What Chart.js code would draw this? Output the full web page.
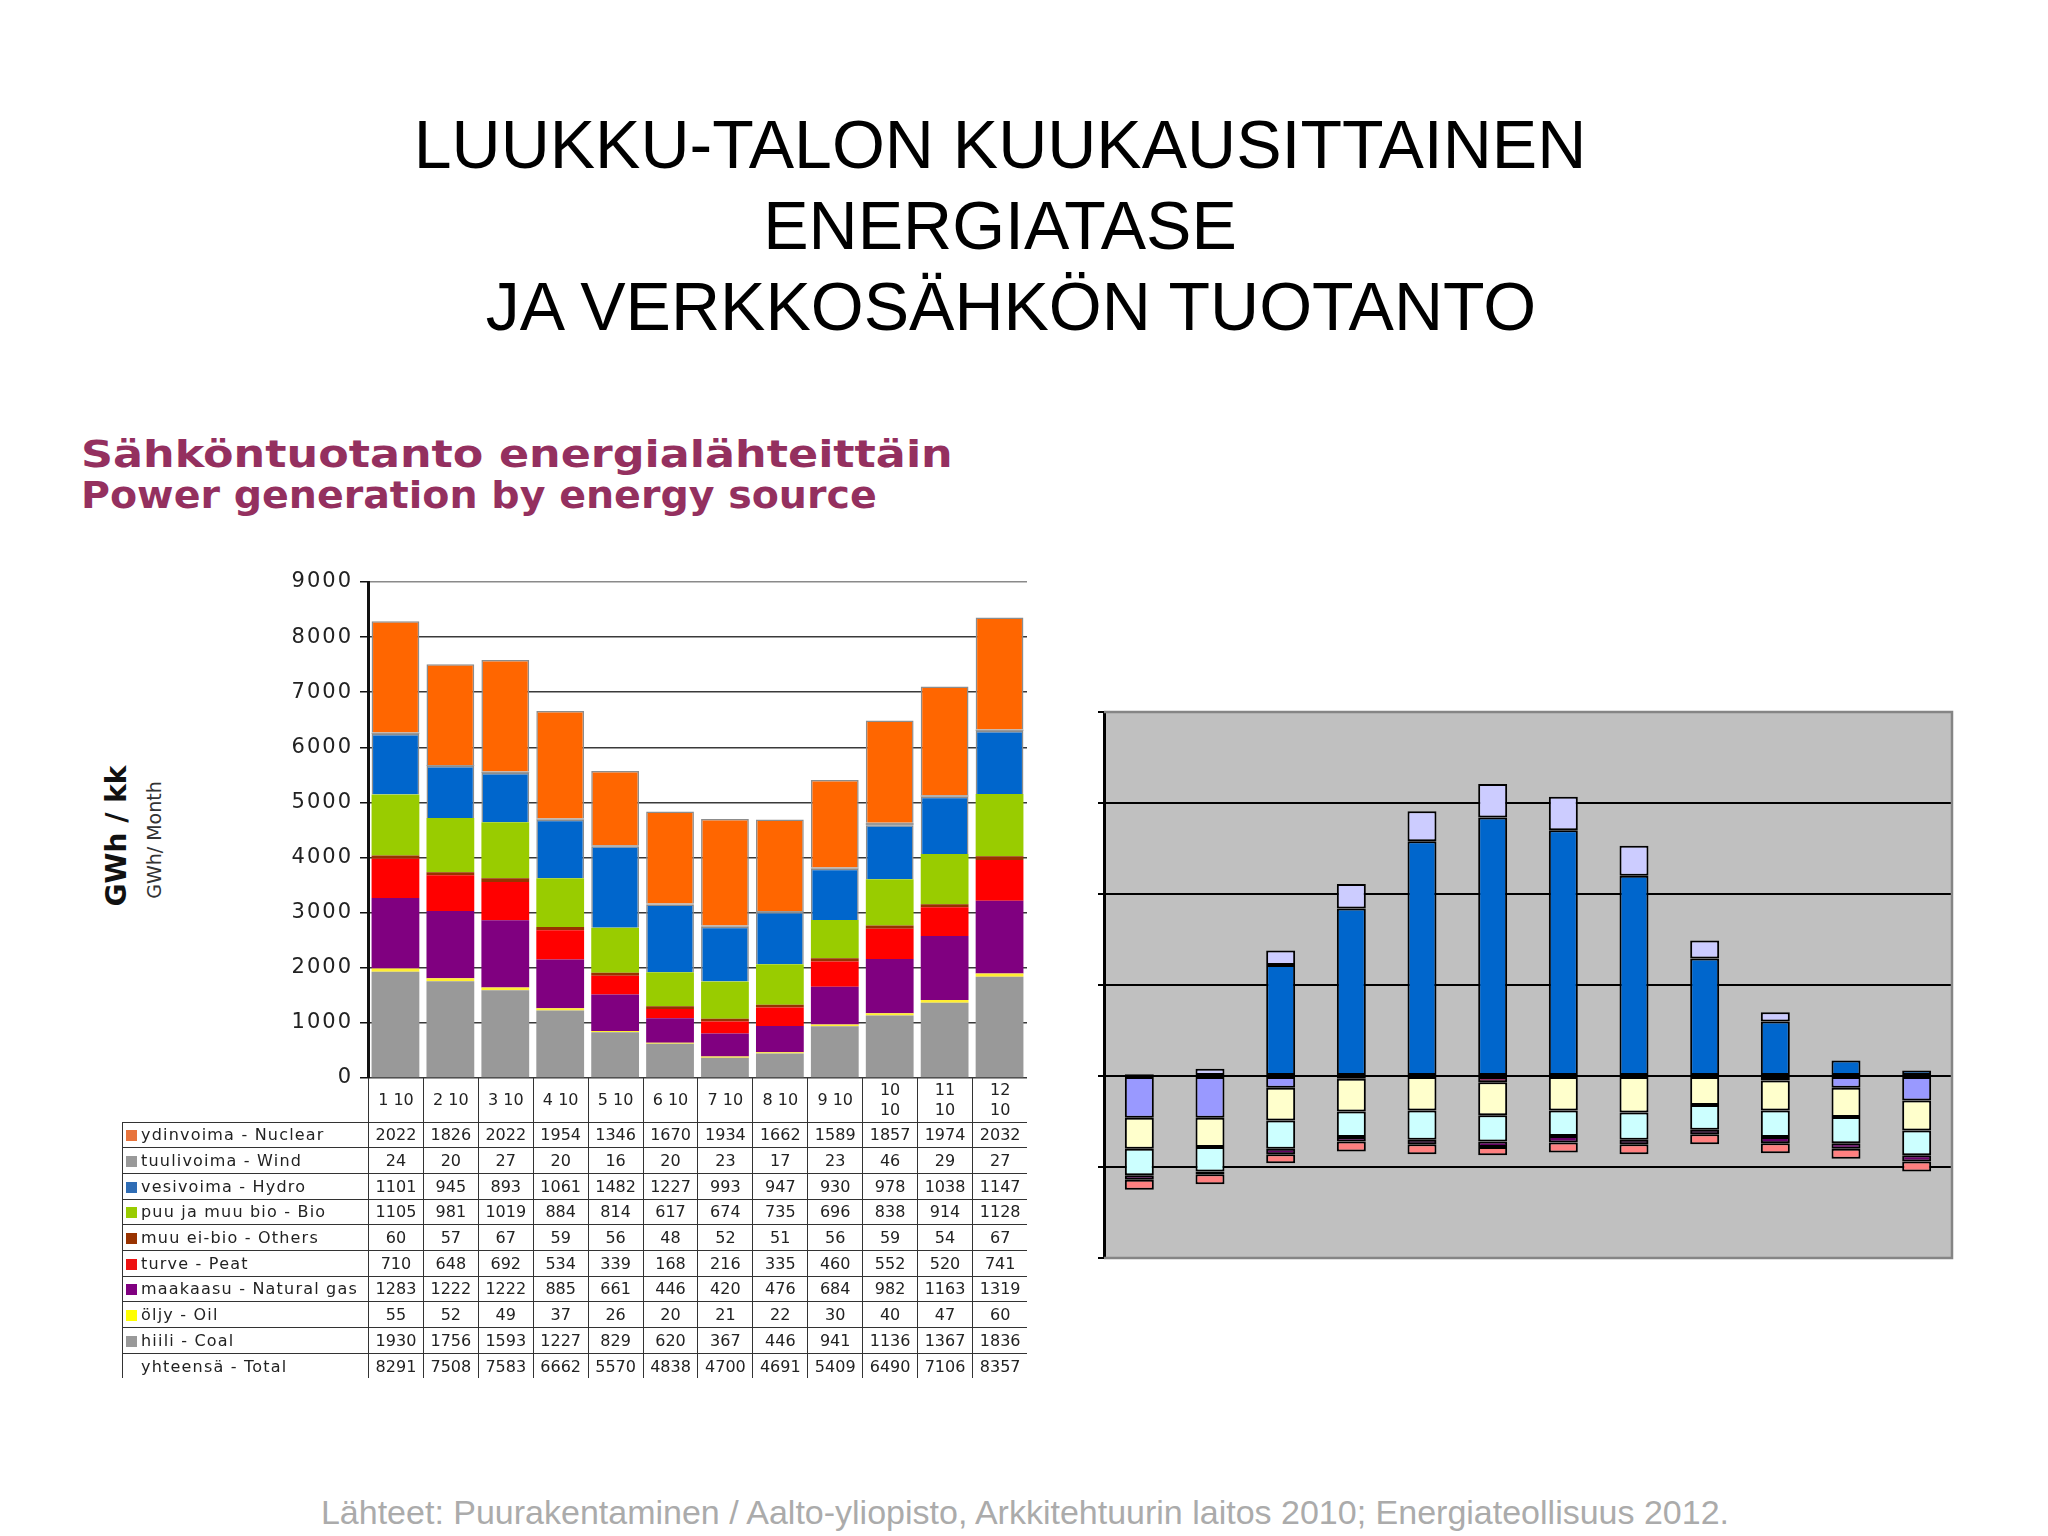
<!DOCTYPE html>
<html lang="fi">
  <head>
    <meta charset="UTF-8" />
    <title>Luukku-talon kuukausittainen energiatase</title>
    <style>
      html,
      body {
        margin: 0;
        padding: 0;
        background: #fff;
      }

      #slide {
        position: relative;
        width: 2048px;
        height: 1536px;
        overflow: hidden;
        background: #fff;
      }

      .title {
        position: absolute;
        left: 0;
        top: 104px;
        width: 2000px;
        text-align: center;
        font-family: "Liberation Sans", Arial, sans-serif;
        font-size: 68px;
        line-height: 81px;
        color: #000;
      }

      .title span {
        position: relative;
        left: 11px;
      }

      .sub {
        position: absolute;
        left: 81px;
        font-family: "DejaVu Sans", Verdana, sans-serif;
        font-weight: bold;
        font-size: 38px;
        line-height: 38px;
        color: #94305f;
        white-space: nowrap;
        transform-origin: left center;
      }

      .ytitle {
        position: absolute;
        white-space: nowrap;
        transform: translate(-50%, -50%) rotate(-90deg);
        font-family: "DejaVu Sans", Verdana, sans-serif;
      }

      canvas {
        position: absolute;
      }

      #dataTable {
        position: absolute;
        left: 122px;
        top: 1078px;
        width: 905px;
        table-layout: fixed;
        border-collapse: collapse;
        font-family: "DejaVu Sans", Verdana, sans-serif;
        font-size: 16px;
        color: #222;
      }

      #dataTable th,
      #dataTable td {
        padding: 0;
        text-align: center;
        font-weight: normal;
        border-left: 1.5px solid #333;
        border-top: 1.5px solid #333;
        height: 24.7px;
        white-space: nowrap;
      }

      #dataTable tr.head th {
        border-top: none;
        height: 43.5px;
        line-height: 20px;
      }

      #dataTable th.corner {
        border-left: none;
      }

      #dataTable td.lab {
        text-align: left;
        letter-spacing: 1.2px;
        padding-left: 3px;
      }

      .sq {
        display: inline-block;
        width: 11px;
        height: 11px;
        margin-right: 4px;
        vertical-align: -1px;
      }

      .source {
        position: absolute;
        left: 0;
        width: 2050px;
        top: 1493px;
        text-align: center;
        font-family: "Liberation Sans", Arial, sans-serif;
        font-size: 34px;
        line-height: 38px;
        color: #ababab;
      }
    </style>
  </head>
  <body>
    <div id="slide">
      <div class="title">LUUKKU-TALON KUUKAUSITTAINEN<br />ENERGIATASE<br /><span>JA VERKKOSÄHKÖN TUOTANTO</span></div>

      <div class="sub" style="top: 435px; transform: scaleX(1.17)">Sähköntuotanto energialähteittäin</div>
      <div class="sub" style="top: 476px; transform: scaleX(1.04)">Power generation by energy source</div>

      <div class="ytitle" style="left: 116px; top: 836px; font-weight: bold; font-size: 28px; color: #111">GWh / kk</div>
      <div class="ytitle" style="left: 154px; top: 840px; font-size: 19px; color: #333">GWh/ Month</div>

      <canvas id="leftChart" width="787" height="538" style="left: 250px; top: 560px"></canvas>
      <table id="dataTable"></table>

      <canvas id="rightChart" width="902" height="588" style="left: 1060px; top: 690px"></canvas>

      <div class="source">Lähteet: Puurakentaminen / Aalto-yliopisto, Arkkitehtuurin laitos 2010; Energiateollisuus 2012.</div>
    </div>

    <script src="https://cdn.jsdelivr.net/npm/chart.js@4.4.0/dist/chart.umd.min.js"></script>
    <script>
      // --- left chart: power generation by energy source, GWh per month (2010) ---
      const months = ["1 10", "2 10", "3 10", "4 10", "5 10", "6 10", "7 10", "8 10", "9 10", "10 10", "11 10", "12 10"];
      const nuclear = [2022, 1826, 2022, 1954, 1346, 1670, 1934, 1662, 1589, 1857, 1974, 2032];
      const wind = [24, 20, 27, 20, 16, 20, 23, 17, 23, 46, 29, 27];
      const hydro = [1101, 945, 893, 1061, 1482, 1227, 993, 947, 930, 978, 1038, 1147];
      const bio = [1105, 981, 1019, 884, 814, 617, 674, 735, 696, 838, 914, 1128];
      const others = [60, 57, 67, 59, 56, 48, 52, 51, 56, 59, 54, 67];
      const peat = [710, 648, 692, 534, 339, 168, 216, 335, 460, 552, 520, 741];
      const naturalGas = [1283, 1222, 1222, 885, 661, 446, 420, 476, 684, 982, 1163, 1319];
      const oil = [55, 52, 49, 37, 26, 20, 21, 22, 30, 40, 47, 60];
      const coal = [1930, 1756, 1593, 1227, 829, 620, 367, 446, 941, 1136, 1367, 1836];
      const totals = [8291, 7508, 7583, 6662, 5570, 4838, 4700, 4691, 5409, 6490, 7106, 8357];
      const leftTicks = [0, 1000, 2000, 3000, 4000, 5000, 6000, 7000, 8000, 9000];

      // --- right chart: monthly energy balance of the house (no labels in source) ---
      const balanceSupply = [20, 0, 1220, 1840, 2580, 2840, 2700, 2200, 1290, 600, 170, 60];
      const balanceSupplyTop = [0, 80, 160, 270, 330, 370, 370, 330, 200, 100, 0, 0];
      const balanceDemandA = [-460, -460, -130, -30, 0, 0, 0, 0, 0, -50, -130, -270];
      const balanceDemandB = [0, 0, 0, 0, 0, -70, 0, 0, 0, 0, 0, 0];
      const balanceDemandC = [-340, -320, -360, -360, -380, -360, -380, -400, -320, -330, -320, -330];
      const balanceDemandD = [-290, -270, -310, -280, -320, -290, -280, -300, -270, -290, -290, -270];
      const balanceDemandE = [-50, -30, -60, -50, -50, -60, -70, -50, -50, -70, -60, -70];
      const balanceDemandF = [-110, -110, -100, -110, -110, -90, -110, -110, -110, -110, -110, -110];

      // stacking order from the bottom up
      const leftSeries = [
        { label: "hiili - Coal", data: coal, color: "#999999" },
        { label: "öljy - Oil", data: oil, color: "#ffee33" },
        { label: "maakaasu - Natural gas", data: naturalGas, color: "#800080" },
        { label: "turve - Peat", data: peat, color: "#ff0000" },
        { label: "muu ei-bio - Others", data: others, color: "#993300" },
        { label: "puu ja muu bio - Bio", data: bio, color: "#99cc00" },
        { label: "vesivoima - Hydro", data: hydro, color: "#0066cc", border: 1.5 },
        { label: "tuulivoima - Wind", data: wind, color: "#999999" },
        { label: "ydinvoima - Nuclear", data: nuclear, color: "#ff6600", border: 1.5 },
      ];

      // table rows as in the source
      const tableRows = [
        { label: "ydinvoima - Nuclear", data: nuclear, color: "#e8743c" },
        { label: "tuulivoima - Wind", data: wind, color: "#999999" },
        { label: "vesivoima - Hydro", data: hydro, color: "#2f6db5" },
        { label: "puu ja muu bio - Bio", data: bio, color: "#99cc00" },
        { label: "muu ei-bio - Others", data: others, color: "#993300" },
        { label: "turve - Peat", data: peat, color: "#ee1111" },
        { label: "maakaasu - Natural gas", data: naturalGas, color: "#800080" },
        { label: "öljy - Oil", data: oil, color: "#ffff00" },
        { label: "hiili - Coal", data: coal, color: "#999999" },
        { label: "yhteensä - Total", data: totals, color: null },
      ];

      const rightSeries = [
        { data: balanceSupply, color: "#0066cc" },
        { data: balanceSupplyTop, color: "#ccccff" },
        { data: balanceDemandA, color: "#9999ff" },
        { data: balanceDemandB, color: "#993366" },
        { data: balanceDemandC, color: "#ffffcc" },
        { data: balanceDemandD, color: "#ccffff" },
        { data: balanceDemandE, color: "#660066" },
        { data: balanceDemandF, color: "#ff8080" },
      ];

      // the tick numbers in the source are spaced out a little
      const spacedTicks = {
        id: "spacedTicks",
        beforeDraw(chart) {
          chart.ctx.letterSpacing = "2px";
        },
      };

      new Chart(document.getElementById("leftChart"), {
        type: "bar",
        data: {
          labels: months,
          datasets: leftSeries.map((s) => ({
            label: s.label,
            data: s.data,
            backgroundColor: s.color,
            borderColor: "#8c8c8c",
            borderWidth: s.border || 0,
            barPercentage: 0.87,
            categoryPercentage: 1,
          })),
        },
        options: {
          responsive: false,
          animation: false,
          layout: { padding: { top: 22, right: 10, bottom: 20, left: 0 } },
          plugins: { legend: { display: false }, tooltip: { enabled: false } },
          scales: {
            x: { stacked: true, display: false },
            y: {
              stacked: true,
              min: leftTicks[0],
              max: leftTicks[leftTicks.length - 1],
              afterBuildTicks: (s) => {
                s.ticks = leftTicks.map((v) => ({ value: v }));
              },
              afterFit: (s) => {
                s.width = 118;
              },
              ticks: {
                callback: (v) => String(v),
                padding: 7,
                color: "#222",
                font: { family: "DejaVu Sans", size: 21 },
              },
              grid: {
                color: (c) => (c.tick.value === 9000 ? "#8a8a8a" : "#3a3a3a"),
                lineWidth: 1.5,
                tickLength: 8,
                tickColor: "#111",
              },
              border: { color: "#111", width: 3 },
            },
          },
        },
        plugins: [spacedTicks],
      });

      // data table under the bars
      const table = document.getElementById("dataTable");
      let html = '<colgroup><col style="width:246px">' + months.map(() => '<col style="width:54.92px">').join("") + "</colgroup>";
      html += '<tr class="head"><th class="corner"></th>' + months.map((m) => "<th>" + m.replace(/^(\d\d) /, "$1<br>") + "</th>").join("") + "</tr>";
      for (const row of tableRows) {
        const sq = row.color ? '<span class="sq" style="background:' + row.color + '"></span>' : '<span class="sq"></span>';
        html += '<tr><td class="lab">' + sq + row.label + "</td>" + row.data.map((v) => "<td>" + v + "</td>").join("") + "</tr>";
      }
      table.innerHTML = html;

      const plotFrame = {
        id: "plotFrame",
        beforeDraw(chart) {
          const a = chart.chartArea;
          const ctx = chart.ctx;
          ctx.save();
          ctx.fillStyle = "#c0c0c0";
          ctx.fillRect(a.left, a.top, a.right - a.left, a.bottom - a.top);
          ctx.restore();
        },
        afterDraw(chart) {
          const a = chart.chartArea;
          const ctx = chart.ctx;
          ctx.save();
          ctx.strokeStyle = "#858585";
          ctx.lineWidth = 2.5;
          ctx.beginPath();
          ctx.moveTo(a.left, a.top);
          ctx.lineTo(a.right, a.top);
          ctx.lineTo(a.right, a.bottom);
          ctx.lineTo(a.left, a.bottom);
          ctx.stroke();
          ctx.restore();
        },
      };

      new Chart(document.getElementById("rightChart"), {
        type: "bar",
        data: {
          labels: months,
          datasets: rightSeries.map((s) => ({
            data: s.data.map((v) => (v === 0 ? null : v)),
            backgroundColor: s.color,
            borderColor: "#000",
            borderWidth: 2,
            borderSkipped: false,
            barPercentage: 0.41,
            categoryPercentage: 1,
          })),
        },
        options: {
          responsive: false,
          animation: false,
          layout: { padding: { top: 22, right: 10, bottom: 20, left: 0 } },
          plugins: { legend: { display: false }, tooltip: { enabled: false } },
          scales: {
            x: { stacked: true, display: false },
            y: {
              stacked: true,
              min: -2000,
              max: 4000,
              afterFit: (s) => {
                s.width = 44;
              },
              ticks: { stepSize: 1000, display: false },
              grid: {
                color: (c) => (c.tick.value === 4000 || c.tick.value === -2000 ? "#858585" : "#000"),
                lineWidth: 2,
                tickLength: 6,
                tickColor: "#000",
              },
              border: { color: "#000", width: 3 },
            },
          },
        },
        plugins: [plotFrame],
      });
    </script>
  </body>
</html>
